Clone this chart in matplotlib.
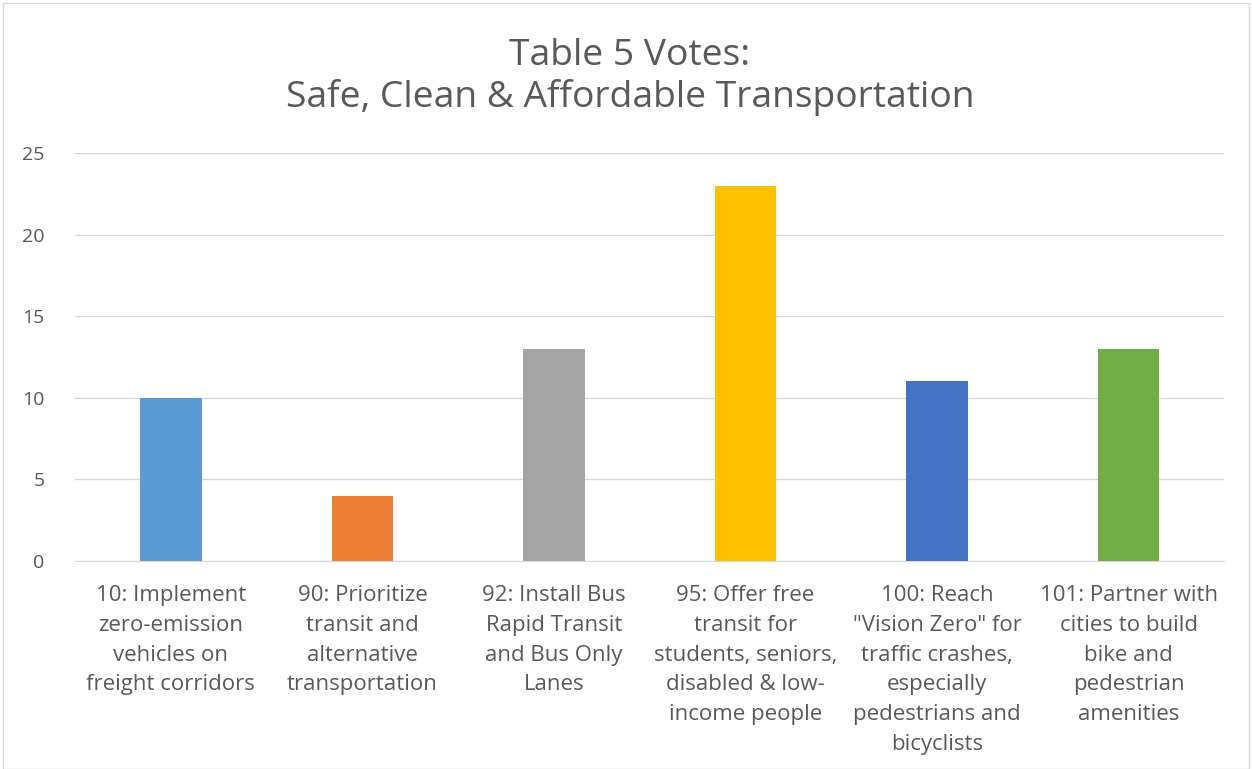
import matplotlib.pyplot as plt
from matplotlib.patches import Rectangle

plt.rcParams['font.family'] = ['Open Sans', 'DejaVu Sans']

categories = [
    "10: Implement\nzero-emission\nvehicles on\nfreight corridors",
    "90: Prioritize\ntransit and\nalternative\ntransportation",
    "92: Install Bus\nRapid Transit\nand Bus Only\nLanes",
    "95: Offer free\ntransit for\nstudents, seniors,\ndisabled & low-\nincome people",
    "100: Reach\n\"Vision Zero\" for\ntraffic crashes,\nespecially\npedestrians and\nbicyclists",
    "101: Partner with\ncities to build\nbike and\npedestrian\namenities",
]
votes = [10, 4, 13, 23, 11, 13]
colors = ["#5B9BD5", "#ED7D31", "#A5A5A5", "#FFC000", "#4472C4", "#70AD47"]
yticks = [0, 5, 10, 15, 20, 25]

fig = plt.figure(figsize=(12.52, 7.69), dpi=100)
ax = fig.add_axes([0.06, 0.2705, 0.918, 0.5305])

x = range(len(categories))
ax.bar(x, votes, width=0.32, color=colors, zorder=3)

ax.set_ylim(0, 25)
ax.set_xlim(-0.5, len(categories) - 0.5)
ax.set_yticks(yticks)
ax.yaxis.grid(True, color="#D9D9D9", linewidth=1, zorder=0)
for s in ["top", "right", "left"]:
    ax.spines[s].set_visible(False)
ax.spines["bottom"].set_color("#D9D9D9")
ax.tick_params(axis="y", length=0, labelsize=14, labelcolor="#595959", pad=22)
ax.tick_params(axis="x", length=0, labelsize=16, labelcolor="#595959", pad=17)
ax.set_xticks(list(x))
ax.set_xticklabels(categories, linespacing=1.56)

fig.text(0.503, 0.900, "Table 5 Votes:\nSafe, Clean & Affordable Transportation",
         ha="center", va="center", fontsize=26.8, color="#595959",
         linespacing=1.17)

fig.patches.append(Rectangle((0.002, 0.0), 0.996, 0.996, transform=fig.transFigure,
                             fill=False, edgecolor="#D9D9D9", linewidth=1))

fig.savefig("out.png", dpi=100)
